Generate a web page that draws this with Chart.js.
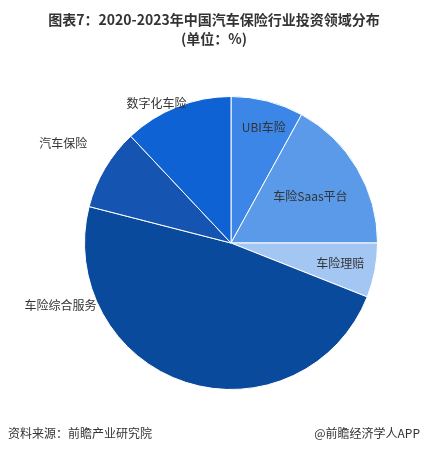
<!DOCTYPE html>
<html>
<head>
<meta charset="utf-8">
<script src="https://cdn.jsdelivr.net/npm/chart.js@4"></script>
<style>
  html, body { margin: 0; padding: 0; background: #fff; }
  #wrap { width: 427px; height: 451px; position: relative; }
</style>
</head>
<body>
<div id="wrap"><canvas id="pie"></canvas></div>
<script>
const labels = ['UBI车险', '车险Saas平台', '车险理赔', '车险综合服务', '汽车保险', '数字化车险'];
const values = [8, 17, 6, 48, 9, 12];
const colors = ['#3b86e6', '#5a9ae8', '#a3c6f3', '#0a4a9c', '#1554b0', '#0f62d3'];
// label distance from centre (fraction of radius) and position along the slice
const labelRadius = [0.82, 0.63, 0.76, 1.24, 1.33, 1.08];
const labelAlong = [0.55, 0.5, 0.5, 0.8, 0.5, 0.35];

const textPlugin = {
  id: 'texts',
  afterDraw(chart) {
    const ctx = chart.ctx;
    ctx.save();
    ctx.fillStyle = '#333';
    ctx.textBaseline = 'middle';
    ctx.textAlign = 'center';
    ctx.font = 'bold 14px "Noto Sans CJK SC", sans-serif';
    ctx.fillText('图表7：2020-2023年中国汽车保险行业投资领域分布', 214, 20);
    ctx.fillText('(单位：%)', 214, 39);

    ctx.font = '12px "Noto Sans CJK SC", sans-serif';
    const arcs = chart.getDatasetMeta(0).data;
    arcs.forEach((arc, i) => {
      const a = arc.startAngle + (arc.endAngle - arc.startAngle) * labelAlong[i];
      const r = arc.outerRadius * labelRadius[i];
      ctx.fillText(labels[i], arc.x + Math.cos(a) * r, arc.y + Math.sin(a) * r);
    });

    ctx.textAlign = 'left';
    ctx.fillText('资料来源：前瞻产业研究院', 8, 433);
    ctx.textAlign = 'right';
    ctx.fillText('@前瞻经济学人APP', 420, 433);
    ctx.restore();
  }
};

new Chart(document.getElementById('pie'), {
  type: 'pie',
  data: {
    labels: labels,
    datasets: [{
      data: values,
      backgroundColor: colors,
      borderColor: '#fff',
      borderWidth: 1
    }]
  },
  options: {
    responsive: true,
    maintainAspectRatio: false,
    animation: false,
    layout: { padding: { left: 84, right: 49, top: 96, bottom: 61 } },
    plugins: {
      legend: { display: false },
      tooltip: { enabled: false }
    }
  },
  plugins: [textPlugin]
});
</script>
</body>
</html>
